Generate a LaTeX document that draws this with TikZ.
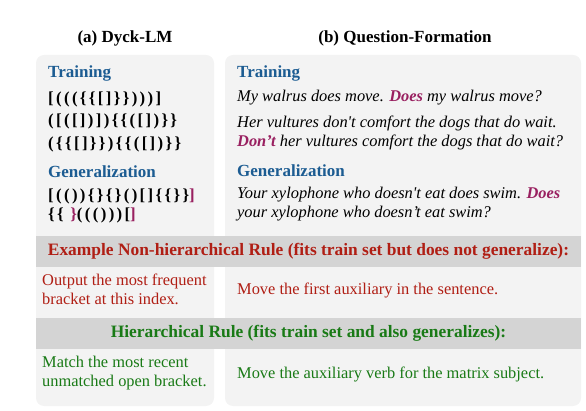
\documentclass[tikz,border=0pt]{standalone}
\usepackage{fontspec}
\setmainfont{Liberation Serif}
\newfontfamily\brkfont[LetterSpace=14]{Liberation Serif}
\usepackage{xcolor}
\usetikzlibrary{positioning}

\definecolor{panelgray}{HTML}{F3F3F3}
\definecolor{bandgray}{HTML}{D4D4D4}
\definecolor{headblue}{HTML}{1C5C92}
\definecolor{keypurple}{HTML}{992060}
\definecolor{rulered}{HTML}{B01E14}
\definecolor{rulegreen}{HTML}{197A16}

\newcommand{\kw}[1]{\textcolor{keypurple}{\textbf{#1}}}

\begin{document}
\begin{tikzpicture}[x=1pt, y=-1pt,
    every node/.style={inner sep=0pt, font=\fontsize{16.4}{18.5}\selectfont},
    panel/.style={fill=panelgray, rounded corners=8pt},
    band/.style={fill=bandgray},
    title/.style={font=\fontsize{17}{19}\selectfont\bfseries},
    bandtitle/.style={font=\fontsize{17.4}{19}\selectfont\bfseries},
    head/.style={anchor=west, text=headblue, font=\fontsize{17}{19}\selectfont\bfseries},
    brk/.style={anchor=west, font=\fontsize{16.8}{18.5}\selectfont\brkfont\bfseries},
    sent/.style={anchor=west, align=left, font=\fontsize{16.4}{18.5}\selectfont\itshape},
    badrule/.style={anchor=west, align=left, text=rulered},
    goodrule/.style={anchor=west, align=left, text=rulegreen}]
    \useasboundingbox (0,0) rectangle (586,411);

    % panels and rule bands
    \fill[panel] (36,55) rectangle (214,406);
    \fill[panel] (225,55) rectangle (581,406);
    \fill[band] (36,236) rectangle (581,267);
    \fill[band] (36,318) rectangle (581,349);

    % titles
    \node[title] (dyck) at (125,38) {(a) Dyck-LM};
    \node[title] (qf) at (405,38) {(b) Question-Formation};

    % (a) Dyck-LM
    \node[head] (dycktrain) at (48,73) {Training};
    \node[brk] (dyck1) at (48,99) {[(((\{\{[]\}\})))]};
    \node[brk] (dyck2) at (48,121) {([([])])\{\{([])\}\}};
    \node[brk] (dyck3) at (48,144) {(\{\{[]\}\})\{\{([])\}\}};
    \node[head] (dyckgen) at (48,172) {Generalization};
    \node[brk] (dyck4) at (48,196) {[(())\{\}\{\}()[]\{\{\}\}\textcolor{keypurple}{]}};
    \node[brk] (dyck5) at (48,215) {\{\{ \textcolor{keypurple}{\}}((()))[\textcolor{keypurple}{]}};

    % (b) Question-Formation
    \node[head] (qftrain) at (237,73) {Training};
    \node[sent] (qf1) at (237,98) {My walrus does move. \kw{Does} my walrus move?};
    \node[sent] (qf2) at (237,133) {Her vultures don\textquotesingle t comfort the dogs that do wait.\\
        \kw{Don’t} her vultures comfort the dogs that do wait?};
    \node[head] (qfgen) at (237,171) {Generalization};
    \node[sent] (qf3) at (237,204) {Your xylophone who doesn\textquotesingle t eat does swim. \kw{Does}\\
        your xylophone who doesn’t eat swim?};

    % non-hierarchical rule
    \node[bandtitle, text=rulered] (badhead) at (308.5,251.5)
        {Example Non-hierarchical Rule (fits train set but does not generalize):};
    \node[badrule] (baddyck) at (42,289.5) {Output the most frequent\\bracket at this index.};
    \node[badrule] (badqf) at (237,290) {Move the first auxiliary in the sentence.};

    % hierarchical rule
    \node[bandtitle, text=rulegreen] (goodhead) at (308.5,333.5)
        {Hierarchical Rule (fits train set and also generalizes):};
    \node[goodrule] (gooddyck) at (42,373) {Match the most recent\\unmatched open bracket.};
    \node[goodrule] (goodqf) at (237,374) {Move the auxiliary verb for the matrix subject.};
\end{tikzpicture}
\end{document}
